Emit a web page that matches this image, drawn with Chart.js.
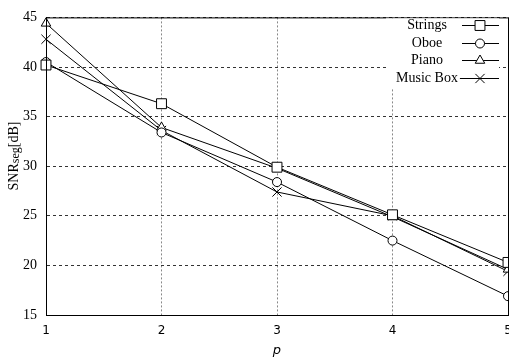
<!DOCTYPE html>
<html lang="en">
<head>
    <meta charset="UTF-8">
    <title>SNRseg vs p</title>
    <script src="https://cdn.jsdelivr.net/npm/chart.js"></script>
    <style>
        html, body { margin: 0; padding: 0; overflow: hidden; background: #fff; }
        #wrap { width: 509px; height: 359px; overflow: hidden; }
    </style>
</head>
<body>
    <div id="wrap"><canvas id="snrChart" width="560" height="359"></canvas></div>

    <script>
        const pValues = [1, 2, 3, 4, 5];
        const yTicks = [15, 20, 25, 30, 35, 40, 45];
        const seriesNames = ['Strings', 'Oboe', 'Piano', 'Music Box'];
        const strings = [40.2, 36.3, 29.9, 25.1, 20.3];
        const oboe = [40.5, 33.4, 28.4, 22.5, 16.9];
        const piano = [44.4, 33.9, 29.8, 24.9, 19.6];
        const musicBox = [42.8, 33.6, 27.4, 25.0, 19.4];

        const serif = "'Liberation Serif', 'Times New Roman', serif";
        const sans = "'DejaVu Sans', sans-serif";
        const styles = ['rect', 'circle', 'triangle', 'crossRot'];
        const radii = [7, 4.5, 5.5, 6.5];

        function toPoints(values) {
            return values.map((v, i) => ({ x: pValues[i], y: v }));
        }

        const frameAndLegend = {
            id: 'frameAndLegend',
            afterDraw(chart) {
                const ctx = chart.ctx;
                const a = chart.chartArea;
                ctx.save();
                // frame round the plot
                ctx.strokeStyle = '#000';
                ctx.lineWidth = 1;
                ctx.strokeRect(a.left + 0.5, a.top + 0.5, a.right - a.left, a.bottom - a.top);

                // y title with "seg" as subscript
                ctx.save();
                ctx.translate(14, 156);
                ctx.rotate(-Math.PI / 2);
                ctx.fillStyle = '#000';
                ctx.textBaseline = 'middle';
                ctx.textAlign = 'left';
                const parts = [['SNR', 14, 0], ['seg', 12, 2], ['[dB]', 14, 0]];
                let total = 0;
                parts.forEach(p => { ctx.font = p[1] + 'px ' + serif; total += ctx.measureText(p[0]).width; });
                let tx = -total / 2;
                parts.forEach(p => {
                    ctx.font = p[1] + 'px ' + serif;
                    ctx.fillText(p[0], tx, p[2]);
                    tx += ctx.measureText(p[0]).width;
                });
                ctx.restore();

                // legend box in top right corner
                ctx.fillStyle = '#fff';
                ctx.fillRect(386, a.top + 1, 113, 70);
                ctx.font = '14px ' + serif;
                ctx.textAlign = 'center';
                ctx.textBaseline = 'middle';
                chart.data.datasets.forEach((ds, i) => {
                    const y = Math.round(25 + i * 17.5) + 0.5;
                    const right = 427 + ctx.measureText(ds.label).width / 2;
                    ctx.fillStyle = '#000';
                    ctx.fillText(ds.label, 427, y);
                    ctx.beginPath();
                    ctx.moveTo(right > 452 ? right + 2 : 462, y);
                    ctx.lineTo(499, y);
                    ctx.stroke();
                    ctx.fillStyle = '#fff';
                    ctx.strokeStyle = '#000';
                    if (Chart.helpers && Chart.helpers.drawPoint) {
                        Chart.helpers.drawPoint(ctx, {
                            pointStyle: ds.pointStyle,
                            radius: ds.pointRadius,
                            rotation: 0,
                            borderWidth: 1
                        }, 480, y);
                    }
                });
                ctx.restore();
            }
        };

        const allSeries = [strings, oboe, piano, musicBox];
        const datasets = allSeries.map((vals, i) => ({
            label: seriesNames[i],
            data: toPoints(vals),
            borderColor: '#000',
            borderWidth: 1,
            pointStyle: styles[i],
            pointRadius: radii[i],
            pointHoverRadius: radii[i],
            pointBackgroundColor: '#fff',
            pointBorderColor: '#000',
            pointBorderWidth: 1,
            tension: 0,
            clip: false
        }));

        const ctx = document.getElementById('snrChart').getContext('2d');
        new Chart(ctx, {
            type: 'line',
            data: { datasets: datasets },
            options: {
                responsive: false,
                animation: false,
                layout: { padding: { top: 14, right: 52, left: 0, bottom: 0 } },
                plugins: { legend: { display: false }, tooltip: { enabled: false } },
                scales: {
                    x: {
                        type: 'linear',
                        min: 1,
                        max: 5,
                        afterFit: (scale) => { scale.height = 44; },
                        afterBuildTicks: (scale) => { scale.ticks = pValues.map(v => ({ value: v })); },
                        ticks: { color: '#000', padding: 9, font: { family: sans, size: 12 } },
                        grid: { color: '#888', drawTicks: false },
                        border: { color: '#000', dash: [2, 2] },
                        title: {
                            display: true,
                            text: 'p',
                            color: '#000',
                            padding: { top: 0, bottom: 1 },
                            font: { family: sans, size: 13, style: 'italic' }
                        }
                    },
                    y: {
                        min: 15,
                        max: 45,
                        afterFit: (scale) => { scale.width = 46; },
                        afterBuildTicks: (scale) => { scale.ticks = yTicks.map(v => ({ value: v })); },
                        ticks: { color: '#000', padding: 9, font: { family: serif, size: 14 } },
                        grid: { color: '#333', drawTicks: false },
                        border: { color: '#000', dash: [3, 3] },
                        title: { display: false }
                    }
                }
            },
            plugins: [frameAndLegend]
        });
    </script>
</body>
</html>
